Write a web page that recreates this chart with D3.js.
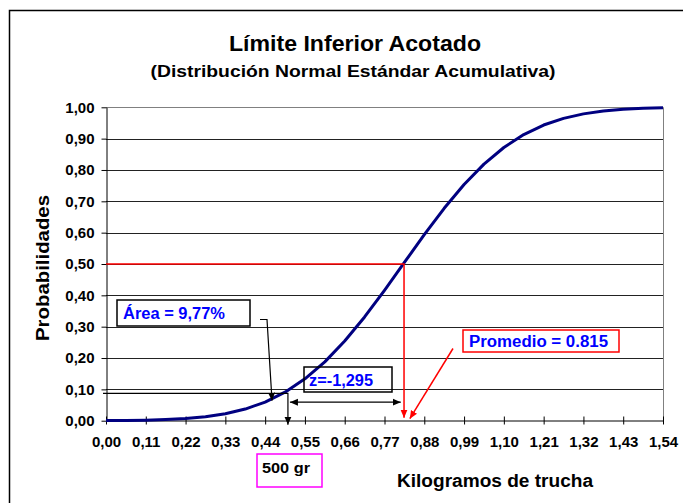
<!DOCTYPE html>
<html lang="es">
<head>
<meta charset="UTF-8" />
<title>Límite Inferior Acotado</title>
<script src="https://cdn.jsdelivr.net/npm/d3@7"></script>
<style>
  body { margin: 0; background: #fff; }
  text { font-family: "Liberation Sans", Arial, sans-serif; font-weight: bold; }
</style>
</head>
<body>
<div id="chart"></div>
<script>
// kilos de trucha (categorias cada 0,055)
var kilos = [0, 0.055, 0.11, 0.165, 0.22, 0.275, 0.33, 0.385, 0.44, 0.495,
  0.55, 0.605, 0.66, 0.715, 0.77, 0.825, 0.88, 0.935, 0.99, 1.045,
  1.10, 1.155, 1.21, 1.265, 1.32, 1.375, 1.43, 1.485, 1.54];
// probabilidad acumulada
var probAcum = [0.0004, 0.0009, 0.0018, 0.0037, 0.0070, 0.0128, 0.0223, 0.0372, 0.0595, 0.0910,
  0.1335, 0.1878, 0.2543, 0.3311, 0.4160, 0.5049, 0.5935, 0.6777, 0.7536, 0.8186,
  0.8718, 0.9130, 0.9434, 0.9647, 0.9790, 0.9880, 0.9935, 0.9966, 0.9983];
var xTicks = [0, 0.11, 0.22, 0.33, 0.44, 0.55, 0.66, 0.77, 0.88, 0.99, 1.10, 1.21, 1.32, 1.43, 1.54];
var yTicks = [0, 0.1, 0.2, 0.3, 0.4, 0.5, 0.6, 0.7, 0.8, 0.9, 1.0];

var promedio = 0.824;   // donde cae la linea roja
var limite = 0.503;     // 500 gr
var areaY = 0.0875;

var W = 683, H = 503;

var svg = d3.select("#chart").append("svg")
  .attr("width", W).attr("height", H);

var x = d3.scaleLinear().domain([0, 1.54]).range([106, 663]);
var y = d3.scaleLinear().domain([0, 1]).range([420.7, 107.3]);

var fmt = function(d){ return d3.format(".2f")(d).replace(".", ","); };

// marco
svg.append("rect").attr("x", 9.5).attr("y", 10.5).attr("width", 700).attr("height", 520)
  .attr("fill", "none").attr("stroke", "#000").attr("stroke-width", 1.5);

// flechas
var defs = svg.append("defs");
function marker(id, color) {
  defs.append("marker").attr("id", id)
    .attr("viewBox", "0 0 8 8").attr("refX", 8).attr("refY", 4)
    .attr("markerWidth", 8).attr("markerHeight", 8)
    .attr("markerUnits", "userSpaceOnUse")
    .attr("orient", "auto-start-reverse")
    .append("path").attr("d", "M0,0.5 L8,4 L0,7.5 z").attr("fill", color);
}
marker("flechaN", "#000");
marker("flechaR", "#f00");

// grilla
svg.append("g").selectAll("line").data(yTicks.filter(function(d){ return d > 0; }))
  .enter().append("line")
  .attr("x1", 106).attr("x2", 663)
  .attr("y1", function(d){ return Math.round(y(d)) + 0.5; })
  .attr("y2", function(d){ return Math.round(y(d)) + 0.5; })
  .attr("stroke", function(d){ return d === 1 ? "#808080" : "#222"; })
  .attr("stroke-width", 1);
svg.append("line").attr("x1", 663.5).attr("x2", 663.5).attr("y1", y(1)).attr("y2", y(0))
  .attr("stroke", "#808080");

// ejes
var xAxis = d3.axisBottom(x).tickValues(xTicks).tickFormat(fmt).tickSizeInner(4).tickSizeOuter(0).tickPadding(12);
var gx = svg.append("g").attr("transform", "translate(0," + 420.5 + ")").call(xAxis);
gx.selectAll(".tick line").attr("y1", -4).attr("y2", 4);
gx.selectAll("text").attr("font-size", "15px").attr("fill", "#000");

var yAxis = d3.axisLeft(y).tickValues(yTicks).tickFormat(fmt).tickSizeInner(5).tickSizeOuter(0).tickPadding(7);
var gy = svg.append("g").attr("transform", "translate(" + 106.5 + ",0)").call(yAxis);
gy.selectAll("text").attr("font-size", "15px").attr("fill", "#000");
svg.selectAll(".domain").attr("stroke", "#000");

// curva
var line = d3.line().x(function(d, i){ return x(kilos[i]); }).y(function(d){ return y(d); });
svg.append("path").datum(probAcum).attr("d", line)
  .attr("fill", "none").attr("stroke", "#000080").attr("stroke-width", 3).attr("stroke-linejoin", "round");

// anotaciones rojas
svg.append("path")
  .attr("d", "M" + x(0) + "," + y(0.5) + "H" + x(promedio) + "V" + (y(0) - 3))
  .attr("fill", "none").attr("stroke", "#f00").attr("stroke-width", 1.5)
  .attr("marker-end", "url(#flechaR)");
svg.append("line")
  .attr("x1", 453).attr("y1", 348.5).attr("x2", x(0.84)).attr("y2", y(0) - 2)
  .attr("stroke", "#f00").attr("stroke-width", 1.5).attr("marker-end", "url(#flechaR)");

// anotaciones negras
svg.append("path")
  .attr("d", "M103," + y(areaY) + "H" + x(limite) + "V" + (y(0) + 4))
  .attr("fill", "none").attr("stroke", "#000").attr("stroke-width", 1.2)
  .attr("marker-end", "url(#flechaN)");
svg.append("line")
  .attr("x1", x(limite) + 2).attr("x2", x(0.815)).attr("y1", y(0.059)).attr("y2", y(0.059))
  .attr("stroke", "#000").attr("stroke-width", 1.2)
  .attr("marker-start", "url(#flechaN)").attr("marker-end", "url(#flechaN)");
svg.append("path")
  .attr("d", "M260,319.5H267L" + x(0.459) + "," + y(0.064))
  .attr("fill", "none").attr("stroke", "#000").attr("stroke-width", 1.2)
  .attr("marker-end", "url(#flechaN)");

// cajas de texto
function caja(x0, y0, w, h, color, fill, txt, tx, ty, size, color2, len) {
  svg.append("rect").attr("x", x0).attr("y", y0).attr("width", w).attr("height", h)
    .attr("fill", fill).attr("stroke", color).attr("stroke-width", 1.5);
  svg.append("text").attr("x", tx).attr("y", ty).text(txt)
    .attr("font-size", size).attr("fill", color2)
    .attr("textLength", len).attr("lengthAdjust", "spacingAndGlyphs");
}
caja(117, 300, 133, 26, "#000", "#fff", "Área = 9,77%", 123, 319, "16px", "#0000ff", 102);
caja(304, 367, 88, 25, "#000", "none", "z=-1,295", 309, 386, "17px", "#0000ff", 64);
caja(463, 330, 156, 22, "#f00", "#fff", "Promedio = 0.815", 469, 347, "16px", "#0000ff", 139);
caja(257, 454, 65, 33, "#ff00ff", "#fff", "500 gr", 262, 473, "15px", "#000", 48);

// titulos
function titulo(tx, ty, size, len, txt, rot) {
  var t = svg.append("text").attr("text-anchor", "middle")
    .attr("font-size", size).attr("textLength", len).attr("lengthAdjust", "spacingAndGlyphs")
    .text(txt);
  if (rot) t.attr("transform", "translate(" + tx + "," + ty + ") rotate(-90)");
  else t.attr("x", tx).attr("y", ty);
}
titulo(355, 51, "22px", 252, "Límite Inferior Acotado");
titulo(353, 77, "16px", 405, "(Distribución Normal Estándar Acumulativa)");
titulo(49, 268, "18px", 146, "Probabilidades", true);
titulo(495, 487, "18px", 196, "Kilogramos de trucha");
</script>
</body>
</html>
